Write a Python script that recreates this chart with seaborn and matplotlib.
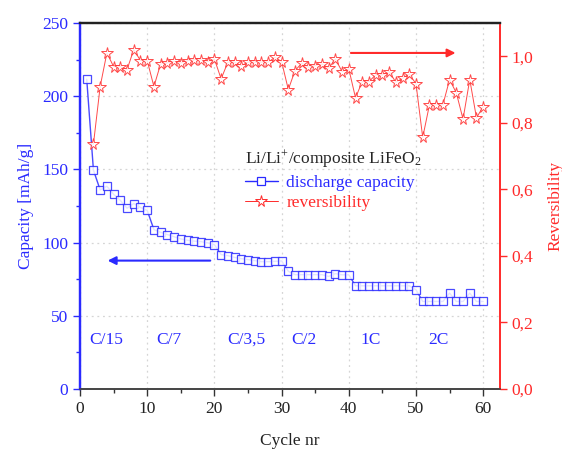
import matplotlib
matplotlib.use("Agg")
import matplotlib.pyplot as plt
import seaborn as sns
import pandas as pd
from matplotlib.lines import Line2D
from matplotlib.ticker import MultipleLocator, FuncFormatter

# ---------------- data ----------------
cycles_cap = list(range(1, 61))
capacity = [211.6, 149.5, 136.0, 138.5, 133.0, 128.8, 123.5, 126.7, 124.0, 122.0,
            108.9, 107.0, 105.5, 104.0, 102.5, 101.6, 101.0, 100.7, 99.8, 98.6,
            91.8, 91.1, 89.9, 89.0, 88.4, 87.7, 87.0, 87.0, 87.2, 87.5,
            80.4, 78.1, 78.1, 78.1, 78.1, 78.1, 76.9, 78.8, 78.0, 78.0,
            70.5, 70.5, 70.5, 70.5, 70.5, 70.5, 70.5, 70.5, 70.5, 67.8,
            59.8, 59.8, 59.8, 59.8, 65.5, 59.8, 59.8, 65.5, 59.8, 59.8]

cycles_rev = list(range(2, 61))
reversibility = [0.736, 0.909, 1.010, 0.969, 0.969, 0.960, 1.020, 0.987, 0.987,
                 0.909, 0.977, 0.980, 0.985, 0.980, 0.987, 0.990, 0.990, 0.984, 0.992,
                 0.932, 0.982, 0.982, 0.972, 0.982, 0.982, 0.982, 0.982, 0.997, 0.984,
                 0.900, 0.957, 0.979, 0.967, 0.972, 0.977, 0.964, 0.992, 0.954, 0.962,
                 0.875, 0.924, 0.924, 0.944, 0.944, 0.954, 0.922, 0.934, 0.947, 0.917,
                 0.756, 0.854, 0.854, 0.854, 0.930, 0.890, 0.811, 0.930, 0.815, 0.849]

rate_labels = ["C/15", "C/7", "C/3,5", "C/2", "1C", "2C"]
rate_x = [3.9, 13.2, 24.7, 33.3, 43.3, 53.4]

cap_df = pd.DataFrame({"cycle": cycles_cap, "capacity": capacity})
rev_df = pd.DataFrame({"cycle": cycles_rev, "rev": reversibility})

# ---------------- style ----------------
sns.set_style("ticks")
plt.rcParams["font.family"] = ["Liberation Serif", "DejaVu Serif"]
plt.rcParams["mathtext.fontset"] = "custom"
plt.rcParams["mathtext.rm"] = "Liberation Serif"
plt.rcParams["mathtext.it"] = "Liberation Serif:italic"

BLUE = "#2a2aff"
RED = "#ff2a2a"
FS = 12.5

fig = plt.figure(figsize=(5.62, 4.55), dpi=100)
ax = fig.add_axes([80/562, 1-389/455, 420/562, 366/455])
ax2 = ax.twinx()

SQ_MS = 5.5
ST_MS = 8.5

sns.lineplot(data=cap_df, x="cycle", y="capacity", ax=ax, color=BLUE,
             marker="s", markersize=SQ_MS, mfc="white", mec=BLUE, mew=0.9,
             linewidth=1.0, alpha=0.85)
sns.lineplot(data=rev_df, x="cycle", y="rev", ax=ax2, color=RED,
             marker="*", markersize=ST_MS, mfc="white", mec=RED, mew=0.7,
             linewidth=0.7, alpha=0.85)

ax.set_xlim(0, 62.5)
ax.set_ylim(0, 250)
ax2.set_ylim(0, 1.1)

ax.xaxis.set_major_locator(MultipleLocator(10))
ax.xaxis.set_minor_locator(MultipleLocator(5))
ax.yaxis.set_major_locator(MultipleLocator(50))
ax.yaxis.set_minor_locator(MultipleLocator(25))
ax2.yaxis.set_major_locator(MultipleLocator(0.2))
ax2.yaxis.set_major_formatter(FuncFormatter(lambda v, p: f"{v:.1f}".replace(".", ",")))

ax.grid(True, which="major", linestyle=(0, (1.5, 3)), color="#d5d5d5", linewidth=0.9)
ax.set_axisbelow(True)

for a in (ax, ax2):
    a.spines["top"].set_color("#222222")
    a.spines["top"].set_linewidth(1.6)
    a.spines["bottom"].set_color("#444444")
    a.spines["bottom"].set_linewidth(1.2)
    a.spines["left"].set_color(BLUE)
    a.spines["left"].set_linewidth(1.6)
    a.spines["right"].set_color(RED)
    a.spines["right"].set_linewidth(1.2)
    a.spines["top"].set_visible(True)
    a.spines["right"].set_visible(True)

ax.tick_params(axis="x", which="major", direction="out", length=5, width=1.0,
               colors="#333333", labelsize=FS, labelcolor="#222222")
ax.tick_params(axis="x", which="minor", direction="out", length=3, width=1.0, colors="#333333")
ax.tick_params(axis="y", which="major", direction="out", length=5, width=1.0,
               colors=BLUE, labelsize=FS)
ax.tick_params(axis="y", which="minor", direction="out", length=3, width=1.0, colors=BLUE)
ax2.tick_params(axis="y", which="major", direction="out", length=5, width=1.0,
                colors=RED, labelsize=FS)

ax.set_xlabel("Cycle nr", fontsize=FS, color="#222222", labelpad=12)
ax.set_ylabel("Capacity [mAh/g]", fontsize=FS, color=BLUE, labelpad=6)
ax2.set_ylabel("Reversibility", fontsize=FS, color=RED, labelpad=10)

# rate labels
for lab, xv in zip(rate_labels, rate_x):
    ax.text(xv, 33.5, lab, color=BLUE, fontsize=FS, ha="center", va="center")

# arrows
ax.annotate("", xy=(3.7, 87.7), xytext=(19.8, 87.7),
            arrowprops=dict(arrowstyle="-|>", color=BLUE, lw=1.5, mutation_scale=12))
ax2.annotate("", xy=(56.3, 1.01), xytext=(39.9, 1.01),
             arrowprops=dict(arrowstyle="-|>", color=RED, lw=1.5, mutation_scale=12))

# legend
handles = [
    Line2D([], [], color=BLUE, marker="s", markersize=SQ_MS, mfc="white", mec=BLUE, mew=0.9, lw=1.0),
    Line2D([], [], color=RED, marker="*", markersize=ST_MS, mfc="white", mec=RED, mew=0.7, lw=0.7),
]
leg = ax2.legend(handles, ["discharge capacity", "reversibility"],
                 title=r"Li/Li$^{+}$/composite LiFeO$_2$",
                 loc="upper left", bbox_to_anchor=(0.355, 0.70),
                 frameon=False, fontsize=FS, title_fontsize=FS,
                 handlelength=1.9, handletextpad=0.5, labelspacing=0.25)
leg._legend_box.align = "left"
for t, c in zip(leg.get_texts(), [BLUE, RED]):
    t.set_color(c)

fig.savefig("out.png", dpi=100)
